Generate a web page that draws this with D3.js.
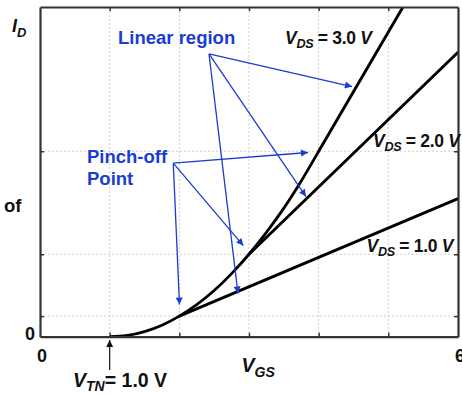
<!DOCTYPE html>
<html>
<head>
<meta charset="utf-8">
<script src="https://cdn.jsdelivr.net/npm/d3@7/dist/d3.min.js"></script>
<style>
  html, body { margin: 0; padding: 0; background: #fff; }
  svg { display: block; font-family: "Liberation Sans", Arial, sans-serif; font-weight: bold; }
</style>
</head>
<body>
<svg id="chart" width="462" height="395"></svg>
<script>
// Gate voltage axis (V) and drain current (arbitrary units)
const vgsDomain = [0, 6];
const idDomain = [0, 8];
const vgsGrid = [1, 2, 3, 4, 5];
const idGrid = [0.5, 2, 4.5];
const vgsLabels = ["0", "6"];
const vgsLabelValues = [0, 6];
const idLabels = ["0"];
const idLabelValues = [0];

// Saturation (square-law) curve, V_TN = 1.0 V
const satVgs = [1, 1.25, 1.5, 1.75, 2, 2.25, 2.5, 2.75, 3, 3.25, 3.5, 3.75, 4];
const satId  = [0, 0.03, 0.125, 0.28, 0.5, 0.78, 1.12, 1.53, 2.0, 2.53, 3.12, 3.78, 4.5];

// Linear-region lines for each V_DS
const vdsNames = ["1.0", "2.0", "3.0"];
const linVgs = [[2, 6], [3, 6], [4, 5.21]];
const linId  = [[0.5, 3.35], [2.0, 6.9], [4.5, 8.0]];

// Annotation arrows: [from VGS, from ID, to VGS, to ID]
const linearArrows = [
  [2.426, 6.86, 4.478, 6.07],
  [2.426, 6.86, 3.818, 3.40],
  [2.426, 6.86, 2.842, 1.05]
];
const pinchArrows = [
  [1.913, 4.21, 3.847, 4.47],
  [1.913, 4.21, 2.918, 2.21],
  [1.913, 4.21, 2.002, 0.78]
];

const svg = d3.select("#chart");
const x = d3.scaleLinear().domain(vgsDomain).range([40, 458]);
const y = d3.scaleLinear().domain(idDomain).range([336.7, 7]);

const blue = "#1a3dd0";
const ink = "#111";

const defs = svg.append("defs");
defs.append("clipPath").attr("id", "plotClip")
  .append("rect").attr("x", 40).attr("y", 7).attr("width", 418).attr("height", 329.7);
defs.append("filter").attr("id", "soft")
  .attr("x", "-10%").attr("y", "-10%").attr("width", "120%").attr("height", "120%")
  .append("feGaussianBlur").attr("stdDeviation", 0.7);
defs.append("marker").attr("id", "headBlue")
  .attr("viewBox", "0 0 10 10").attr("refX", 10).attr("refY", 5)
  .attr("markerWidth", 10).attr("markerHeight", 7).attr("markerUnits", "userSpaceOnUse")
  .attr("orient", "auto")
  .append("path").attr("d", "M0,0L10,5L0,10Z").attr("fill", blue);
defs.append("marker").attr("id", "headBlack")
  .attr("viewBox", "0 0 10 10").attr("refX", 10).attr("refY", 5)
  .attr("markerWidth", 9).attr("markerHeight", 7).attr("markerUnits", "userSpaceOnUse")
  .attr("orient", "auto")
  .append("path").attr("d", "M0,0L10,5L0,10Z").attr("fill", ink);

// Dotted grid
svg.append("g").selectAll("line").data(vgsGrid).join("line")
  .attr("x1", d => x(d)).attr("x2", d => x(d))
  .attr("y1", y(idDomain[1])).attr("y2", y(idDomain[0]))
  .attr("stroke", "#cfcfcf").attr("stroke-width", 1).attr("stroke-dasharray", "2,2");
svg.append("g").selectAll("line").data(idGrid).join("line")
  .attr("x1", x(vgsDomain[0])).attr("x2", x(vgsDomain[1]))
  .attr("y1", d => y(d)).attr("y2", d => y(d))
  .attr("stroke", "#cfcfcf").attr("stroke-width", 1).attr("stroke-dasharray", "2,2");

// Curves
const plot = svg.append("g").attr("clip-path", "url(#plotClip)");
const sat = satVgs.map((v, i) => [v, satId[i]]);
plot.append("path")
  .attr("d", d3.line().x(d => x(d[0])).y(d => y(d[1])).curve(d3.curveMonotoneX)(sat))
  .attr("fill", "none").attr("stroke", "#000").attr("stroke-width", 2.8)
  .attr("filter", "url(#soft)");
vdsNames.forEach((n, k) => {
  const pts = linVgs[k].map((v, i) => [v, linId[k][i]]);
  plot.append("path")
    .attr("d", d3.line().x(d => x(d[0])).y(d => y(d[1]))(pts))
    .attr("fill", "none").attr("stroke", "#000").attr("stroke-width", 2.9)
    .attr("stroke-linecap", "round");
});

// Axes frame with inward ticks
const axisColor = "#333";
const axes = [
  svg.append("g").attr("transform", `translate(0,${y(0)})`)
    .call(d3.axisBottom(x).tickValues(vgsGrid).tickSize(-4).tickFormat("").tickSizeOuter(0)),
  svg.append("g").attr("transform", `translate(0,${y(8)})`)
    .call(d3.axisTop(x).tickValues(vgsGrid).tickSize(-4).tickFormat("").tickSizeOuter(0)),
  svg.append("g").attr("transform", `translate(${x(0)},0)`)
    .call(d3.axisLeft(y).tickValues(idGrid).tickSize(-4).tickFormat("").tickSizeOuter(0)),
  svg.append("g").attr("transform", `translate(${x(6)},0)`)
    .call(d3.axisRight(y).tickValues(idGrid).tickSize(-4).tickFormat("").tickSizeOuter(0))
];
axes.forEach(g => {
  g.select(".domain").attr("stroke", axisColor).attr("stroke-width", 2.2);
  g.selectAll(".tick line").attr("stroke", axisColor).attr("stroke-width", 1.5);
});

// Tick labels
svg.append("g").selectAll("text").data(vgsLabelValues).join("text")
  .attr("x", d => x(d) + 2).attr("y", 362)
  .attr("text-anchor", "middle").attr("font-size", 18).attr("fill", ink)
  .text((d, i) => vgsLabels[i]);
svg.append("g").selectAll("text").data(idLabelValues).join("text")
  .attr("x", 35).attr("y", d => y(d) + 3.5)
  .attr("text-anchor", "end").attr("font-size", 18).attr("fill", ink)
  .text((d, i) => idLabels[i]);

// Subscripted label helper
function subLabel(px, py, main, sub, rest, size, color) {
  const t = svg.append("text").attr("x", px).attr("y", py)
    .attr("font-size", size).attr("fill", color || ink);
  t.append("tspan").attr("font-style", "italic").text(main);
  t.append("tspan").attr("font-style", "italic").attr("font-size", size * 0.72)
    .attr("dy", size * 0.25).text(sub);
  if (rest) rest(t, size);
  return t;
}
function vdsRest(val) {
  return (t, size) => {
    t.append("tspan").attr("dy", -size * 0.25).text(" = " + val + " ");
    t.append("tspan").attr("font-style", "italic").text("V");
  };
}

subLabel(12, 32, "I", "D", null, 18);
subLabel(285, 44, "V", "DS", vdsRest("3.0"), 17.5).attr("letter-spacing", -0.3);
subLabel(373, 147, "V", "DS", vdsRest("2.0"), 17.5).attr("letter-spacing", -0.3);
subLabel(366.5, 252, "V", "DS", vdsRest("1.0"), 17.5).attr("letter-spacing", -0.3);
subLabel(241.5, 372, "V", "GS", null, 19.5);
subLabel(73, 386.5, "V", "TN", (t, size) => {
  t.append("tspan").attr("dy", -size * 0.25).text("= 1.0 V");
}, 19.5);

svg.append("text").attr("x", 4).attr("y", 211.5).attr("font-size", 18.5).attr("fill", ink).text("of");

// Blue annotations
svg.append("text").attr("x", 118).attr("y", 44).attr("font-size", 18.5).attr("fill", blue).text("Linear region");
svg.append("text").attr("x", 87).attr("y", 163).attr("font-size", 18.5).attr("fill", blue).text("Pinch-off");
svg.append("text").attr("x", 87).attr("y", 185).attr("font-size", 18.5).attr("fill", blue).text("Point");

svg.append("g").selectAll("line").data(linearArrows.concat(pinchArrows)).join("line")
  .attr("x1", d => x(d[0])).attr("y1", d => y(d[1]))
  .attr("x2", d => x(d[2])).attr("y2", d => y(d[3]))
  .attr("stroke", blue).attr("stroke-width", 1.3)
  .attr("marker-end", "url(#headBlue)");

// Threshold arrow
svg.append("line")
  .attr("x1", x(1)).attr("y1", 370).attr("x2", x(1)).attr("y2", 340)
  .attr("stroke", ink).attr("stroke-width", 1.2)
  .attr("marker-end", "url(#headBlack)");
</script>
</body>
</html>
